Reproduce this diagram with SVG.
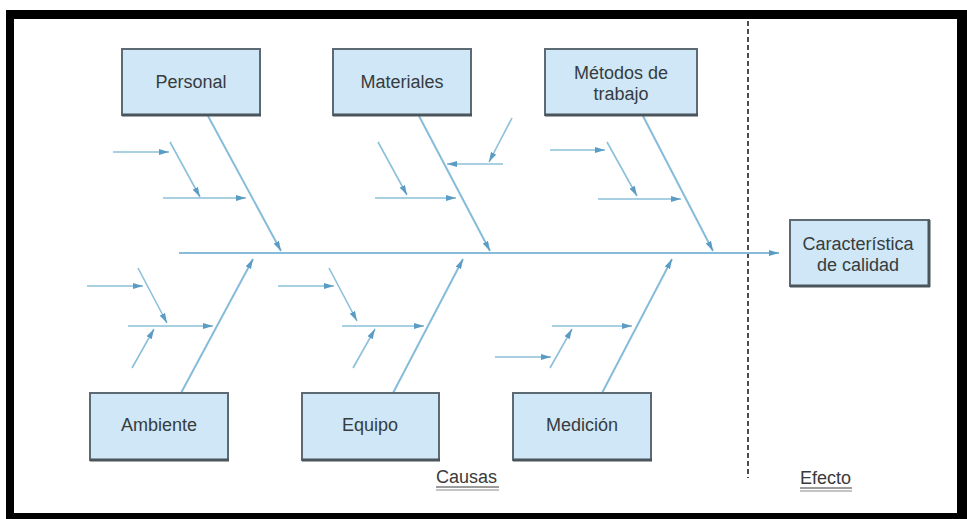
<svg xmlns="http://www.w3.org/2000/svg" width="967" height="519" viewBox="0 0 967 519">
  <style>
    .box { fill: #cfe7f6; stroke: #5d6a73; stroke-width: 2; }
    .shadow { stroke: #4a545b; stroke-width: 3; fill: none; }
    .lbl { font-family: "Liberation Sans", Arial, sans-serif; font-size: 18px; fill: #363c40; text-anchor: middle; }
    .bone { stroke: #86bcd9; stroke-width: 2; fill: none; marker-end: url(#ah); }
    .twig { stroke: #8cbfda; stroke-width: 1.6; fill: none; marker-end: url(#ah); }
    .plain { stroke: #8cbfda; stroke-width: 1.6; fill: none; }
    .note { font-family: "Liberation Sans", Arial, sans-serif; font-size: 18px; fill: #3a3a3a; }
  </style>
  <defs>
    <marker id="ah" viewBox="0 0 10 6" refX="10" refY="3" markerWidth="10" markerHeight="6" markerUnits="userSpaceOnUse" orient="auto">
      <path d="M0,0 L10,3 L0,6 z" fill="#5a9cc3"/>
    </marker>
  </defs>

  <!-- page and black frame -->
  <rect x="0" y="0" width="967" height="519" fill="#ffffff"/>
  <path d="M6,10 H967 V519 H6 Z M14,19 V513 H957 V19 Z" fill="#000000" fill-rule="evenodd"/>

  <!-- cause / effect divider -->
  <line x1="748" y1="21" x2="748" y2="478" stroke="#4d4d4d" stroke-width="2" stroke-dasharray="5 3"/>

  <g id="connectors">
    <!-- spine -->
    <line class="bone" x1="179" y1="253" x2="779" y2="253"/>
    <!-- main bones -->
    <line class="bone" x1="208" y1="116" x2="281" y2="251"/>
    <line class="bone" x1="419" y1="116" x2="490" y2="251"/>
    <line class="bone" x1="643" y1="116" x2="713" y2="251"/>
    <line class="bone" x1="181" y1="393" x2="253" y2="259"/>
    <line class="bone" x1="393" y1="393" x2="463" y2="259"/>
    <line class="bone" x1="602" y1="393" x2="672" y2="259"/>

    <!-- Personal twigs -->
    <line class="twig" x1="113" y1="152" x2="169" y2="152"/>
    <line class="twig" x1="170" y1="142" x2="200" y2="197"/>
    <line class="twig" x1="163" y1="198" x2="246" y2="198"/>

    <!-- Materiales twigs -->
    <line class="twig" x1="378" y1="142" x2="407" y2="195"/>
    <line class="twig" x1="375" y1="198" x2="456" y2="198"/>
    <line class="twig" x1="512" y1="118" x2="489" y2="162"/>
    <line class="twig" x1="503" y1="164" x2="447" y2="164"/>

    <!-- Métodos de trabajo twigs -->
    <line class="twig" x1="550" y1="150" x2="605" y2="150"/>
    <line class="twig" x1="607" y1="142" x2="637" y2="196"/>
    <line class="twig" x1="598" y1="199" x2="681" y2="199"/>

    <!-- Ambiente twigs -->
    <line class="twig" x1="87" y1="286" x2="143" y2="286"/>
    <line class="twig" x1="138" y1="268" x2="167" y2="323"/>
    <line class="twig" x1="128" y1="326" x2="213" y2="326"/>
    <line class="twig" x1="132" y1="368" x2="154" y2="329"/>

    <!-- Equipo twigs -->
    <line class="twig" x1="278" y1="286" x2="334" y2="286"/>
    <line class="twig" x1="329" y1="268" x2="357" y2="321"/>
    <line class="twig" x1="342" y1="326" x2="424" y2="326"/>
    <line class="twig" x1="353" y1="368" x2="375" y2="329"/>

    <!-- Medición twigs -->
    <line class="twig" x1="552" y1="326" x2="632" y2="326"/>
    <line class="twig" x1="550" y1="368" x2="572" y2="329"/>
    <line class="twig" x1="495" y1="357" x2="551" y2="357"/>
  </g>

  <g id="personal">
    <rect class="box" x="122" y="49" width="138" height="66"/>
    <line class="shadow" x1="122" y1="115" x2="261" y2="115"/>
    <text class="lbl" x="191" y="88">Personal</text>
  </g>
  <g id="materiales">
    <rect class="box" x="333" y="49" width="138" height="66"/>
    <line class="shadow" x1="333" y1="115" x2="472" y2="115"/>
    <text class="lbl" x="402" y="88">Materiales</text>
  </g>
  <g id="metodos">
    <rect class="box" x="545" y="49" width="152" height="66"/>
    <line class="shadow" x1="545" y1="115" x2="698" y2="115"/>
    <text class="lbl" x="621" y="79">Métodos de</text>
    <text class="lbl" x="621" y="100">trabajo</text>
  </g>
  <g id="ambiente">
    <rect class="box" x="90" y="393" width="138" height="67"/>
    <line class="shadow" x1="90" y1="460" x2="229" y2="460"/>
    <text class="lbl" x="159" y="431">Ambiente</text>
  </g>
  <g id="equipo">
    <rect class="box" x="302" y="393" width="137" height="67"/>
    <line class="shadow" x1="302" y1="460" x2="440" y2="460"/>
    <text class="lbl" x="370" y="431">Equipo</text>
  </g>
  <g id="medicion">
    <rect class="box" x="513" y="393" width="138" height="67"/>
    <line class="shadow" x1="513" y1="460" x2="652" y2="460"/>
    <text class="lbl" x="582" y="431">Medición</text>
  </g>
  <g id="caracteristica">
    <rect class="box" x="790" y="220" width="139" height="66"/>
    <line class="shadow" x1="790" y1="286" x2="930" y2="286"/>
    <line class="shadow" x1="929" y1="220" x2="929" y2="287" stroke-width="4"/>
    <text class="lbl" x="858" y="250">Característica</text>
    <text class="lbl" x="858" y="271">de calidad</text>
  </g>

  <g id="causas">
    <text class="note" x="436" y="483">Causas</text>
    <line x1="436" y1="487" x2="499" y2="487" stroke="#3a3a3a" stroke-width="1.2"/>
    <line x1="436" y1="490" x2="499" y2="490" stroke="#8a8a8a" stroke-width="1.2"/>
  </g>
  <g id="efecto">
    <text class="note" x="800" y="484">Efecto</text>
    <line x1="800" y1="488" x2="852" y2="488" stroke="#3a3a3a" stroke-width="1.2"/>
    <line x1="800" y1="491" x2="852" y2="491" stroke="#8a8a8a" stroke-width="1.2"/>
  </g>
</svg>
